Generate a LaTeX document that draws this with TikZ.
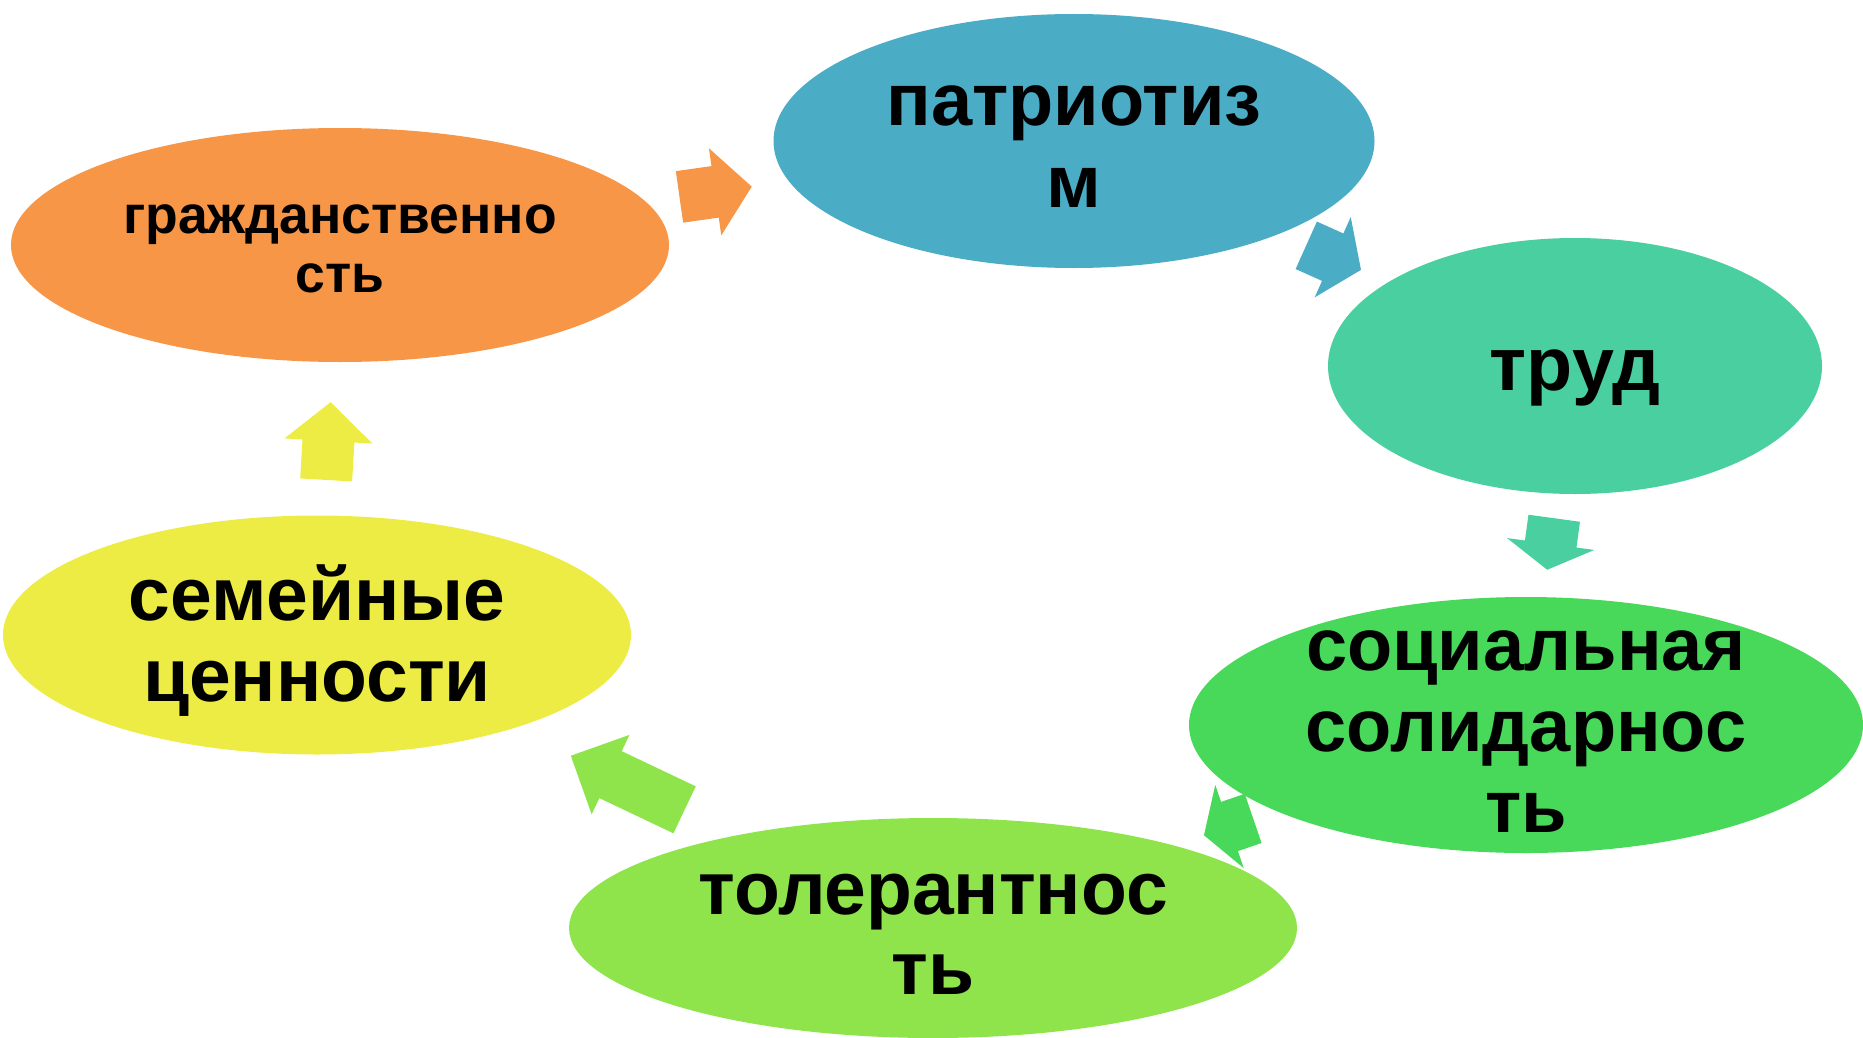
\documentclass[tikz,border=0pt]{standalone}
\usepackage{fontspec}
\setmainfont{Liberation Sans}
\usetikzlibrary{shapes.geometric,calc}
\definecolor{grazhdcol}{HTML}{F79646}
\definecolor{patriotcol}{HTML}{4BACC6}
\definecolor{trudcol}{HTML}{4ACFA1}
\definecolor{solidcol}{HTML}{48D95A}
\definecolor{tolercol}{HTML}{8EE44A}
\definecolor{semyacol}{HTML}{EDEC45}
\tikzset{
  value/.style={ellipse, draw=none, inner sep=0pt},
  valuetext/.style={align=center, inner sep=0pt, text=black},
}
\newcommand{\cyclearrow}[6]{%
  \pgfmathanglebetweenpoints{\pgfpointanchor{#1}{center}}{\pgfpointanchor{#2}{center}}%
  \let\arrowangle\pgfmathresult
  \begin{scope}[shift={($(#1.center)!0.5!(#2.center)$)}, rotate=\arrowangle, xshift=#6pt]
    \fill[#3] (-#4/2,-26) -- (#4/2-#5,-26) -- (#4/2-#5,-44) -- (#4/2,0) -- (#4/2-#5,44) -- (#4/2-#5,26) -- (-#4/2,26) -- cycle;
  \end{scope}}
\begin{document}
\begin{tikzpicture}[x=1pt,y=-1pt]
\useasboundingbox (0,0) rectangle (1863,1038);
\node[value, fill=grazhdcol, minimum width=658pt, minimum height=234pt] (grazhd) at (340,245) {};
\node[value, fill=patriotcol, minimum width=601pt, minimum height=254pt] (patriot) at (1074,141) {};
\node[value, fill=trudcol, minimum width=494pt, minimum height=256pt] (trud) at (1575,366) {};
\node[value, fill=solidcol, minimum width=674pt, minimum height=256pt] (solid) at (1526,725) {};
\node[value, fill=tolercol, minimum width=728pt, minimum height=220pt] (toler) at (933,928) {};
\node[value, fill=semyacol, minimum width=628pt, minimum height=239pt] (semya) at (317,635) {};
\node[valuetext, font=\bfseries\fontsize{53.5}{59}\selectfont, yshift=-3.4pt] (grazhd-t) at (grazhd) {гражданственно\\сть};
\node[valuetext, font=\bfseries\fontsize{74}{82}\selectfont, yshift=-5.5pt] (patriot-t) at (patriot) {патриотиз\\м};
\node[valuetext, font=\bfseries\fontsize{75.5}{81}\selectfont, yshift=-12pt] (trud-t) at (trud) {труд};
\node[valuetext, font=\bfseries\fontsize{74}{81}\selectfont, yshift=-6.5pt] (solid-t) at (solid) {социальная\\солидарнос\\ть};
\node[valuetext, font=\bfseries\fontsize{75}{80}\selectfont, yshift=-6.5pt] (toler-t) at (toler) {толерантнос\\ть};
\node[valuetext, font=\bfseries\fontsize{75}{81}\selectfont, yshift=-5.5pt] (semya-t) at (semya) {семейные\\ценности};
\cyclearrow{grazhd}{patriot}{grazhdcol}{73}{37}{8.7}
\cyclearrow{patriot}{trud}{patriotcol}{60}{31}{10}
\cyclearrow{trud}{solid}{trudcol}{52}{26}{-1.5}
\cyclearrow{solid}{toler}{solidcol}{52}{27}{1}
\cyclearrow{toler}{semya}{tolercol}{126}{44}{-3}
\cyclearrow{semya}{grazhd}{semyacol}{78}{39}{-1}
\end{tikzpicture}
\end{document}
